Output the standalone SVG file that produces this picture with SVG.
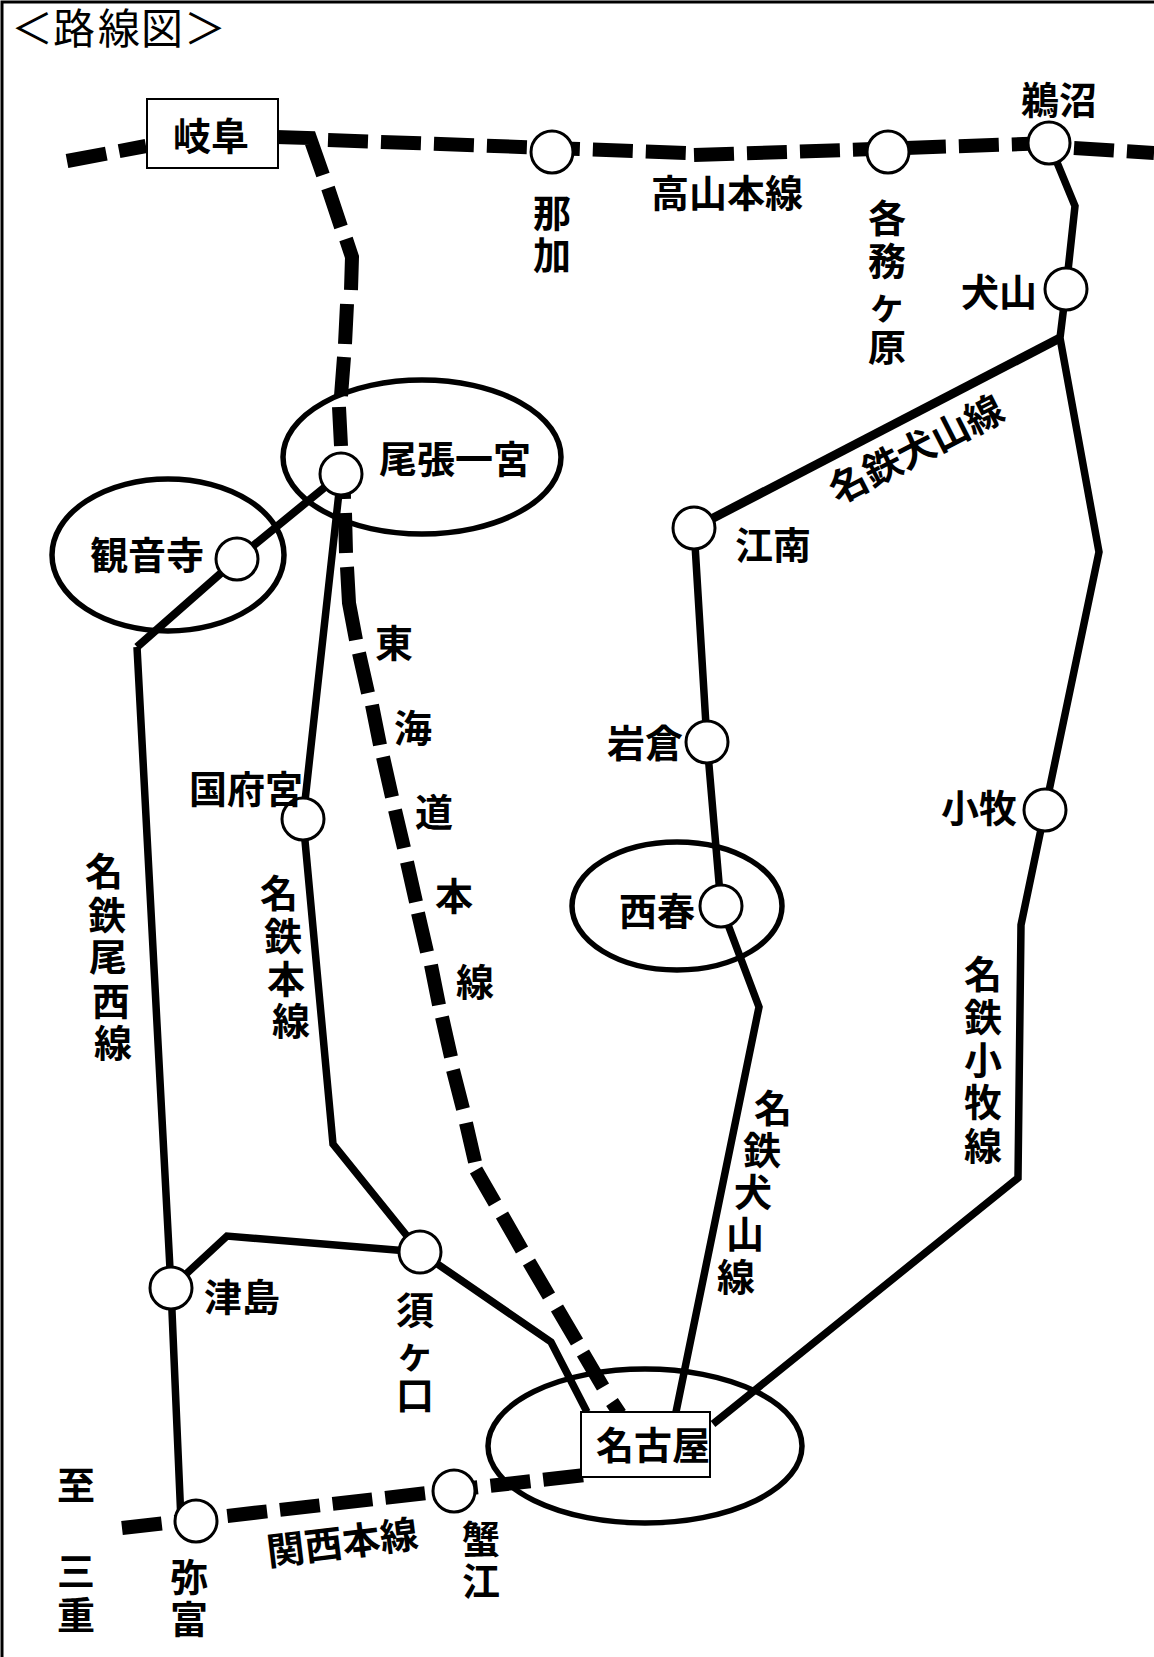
<svg xmlns="http://www.w3.org/2000/svg" width="1154" height="1657" viewBox="0 0 1154 1657">
<style>
text{font-family:"Noto Sans CJK JP","Noto Sans",sans-serif;font-size:38px;font-weight:700;fill:#000;text-anchor:middle;dominant-baseline:central}
.title{font-size:42px;font-weight:400}
.solid{fill:none;stroke:#000;stroke-width:7.5;stroke-linejoin:miter}
.dash{fill:none;stroke:#000;stroke-width:14;stroke-dasharray:40 13}
.thick{fill:none;stroke:#000;stroke-width:14}
.st{fill:#fff;stroke:#000;stroke-width:3}
.area{fill:none;stroke:#000;stroke-width:5.5}
.box{fill:#fff;stroke:#000;stroke-width:2}
</style>
<rect width="1154" height="1657" fill="#fff"/>
<path d="M2,1657V2H1154" fill="none" stroke="#000" stroke-width="3"/>
<text class="title" x="32 74 119 162 205" y="25">＜路線図＞</text>
<g id="areas">
<ellipse class="area" cx="422" cy="457" rx="139" ry="77"/>
<ellipse class="area" cx="168" cy="555" rx="116" ry="76"/>
<ellipse class="area" cx="677" cy="906" rx="105" ry="64"/>
<ellipse class="area" cx="645" cy="1446" rx="157" ry="77"/>
</g>
<g id="connectors">
<path class="solid" d="M1049,143L1075,206L1066,289L1060,338L1099,552L1045,810L1021,925L1018,1178L713,1424"/>
<path class="solid" style="stroke-width:9" d="M1060,338L694,528"/>
<path class="solid" d="M694,528L707,742L721,906L759,1007L676,1412"/>
<path class="solid" style="stroke-width:8" d="M341,474L237,559L137,647"/>
<path class="solid" d="M137,647L171,1288L181,1521"/>
<path class="solid" d="M341,474L303,819L333,1144L420,1252L551,1342L587,1412"/>
<path class="solid" d="M171,1288L227,1236L420,1252"/>
<path class="dash" d="M122,1528L585,1475"/>
<path class="dash" d="M67,161L146,146"/>
<path class="dash" d="M328,140L688,153"/>
<path class="dash" d="M694,155L1054,143"/>
<path class="dash" d="M1074,148L1154,153"/>
<path class="thick" d="M276,137L310,138L323,175M328,188L341,227M346,239L352,257L351,290M347,304L345,344M344,357L341,396M339,407L341,446M343,459L344,499M345,513L346,553M347,567L349,603L356,640M359,653L368,693M372,705L380,745M383,757L392,797M395,810L404,848M407,862L416,902M418,913L427,952M431,965L439,1005M442,1017L451,1057M453,1070L463,1109M466,1123L475,1162M476,1170L495,1203M502,1215L522,1250M529,1262L549,1296M557,1308L577,1342M583,1353L603,1387M612,1402L620,1414"/>
</g>
<g id="st-naka"><circle class="st" cx="552" cy="152" r="21"/><text x="552" y="210">那</text><text x="552" y="252">加</text></g>
<g id="st-kakamigahara"><circle class="st" cx="888" cy="152" r="21"/><text x="887" y="215">各</text><text x="887" y="258">務</text><text x="887" y="301">ヶ</text><text x="887" y="344">原</text></g>
<g id="st-unuma"><circle class="st" cx="1049" cy="143" r="21"/><text x="1059" y="97">鵜沼</text></g>
<g id="st-inuyama"><circle class="st" cx="1066" cy="289" r="21"/><text x="999" y="289">犬山</text></g>
<g id="st-konan"><circle class="st" cx="694" cy="528" r="21"/><text x="773" y="542">江南</text></g>
<g id="st-iwakura"><circle class="st" cx="707" cy="742" r="21"/><text x="645" y="740">岩倉</text></g>
<g id="st-nishiharu"><circle class="st" cx="721" cy="906" r="21"/><text x="657" y="908">西春</text></g>
<g id="st-komaki"><circle class="st" cx="1045" cy="810" r="21"/><text x="979" y="805">小牧</text></g>
<g id="st-owari-ichinomiya"><circle class="st" cx="341" cy="474" r="21"/><text x="455" y="456">尾張一宮</text></g>
<g id="st-kannonji"><circle class="st" cx="237" cy="559" r="21"/><text x="147" y="552">観音寺</text></g>
<g id="st-konomiya"><circle class="st" cx="303" cy="819" r="21"/><text x="246" y="786">国府宮</text></g>
<g id="st-sukaguchi"><circle class="st" cx="420" cy="1252" r="21"/><text x="415" y="1307">須</text><text x="415" y="1350">ヶ</text><text x="415" y="1392">口</text></g>
<g id="st-tsushima"><circle class="st" cx="171" cy="1288" r="21"/><text x="242" y="1294">津島</text></g>
<g id="st-yatomi"><circle class="st" cx="196" cy="1521" r="21"/><text x="189" y="1574">弥</text><text x="189" y="1616">富</text></g>
<g id="st-kanie"><circle class="st" cx="454" cy="1491" r="21"/><text x="481" y="1536">蟹</text><text x="481" y="1578">江</text></g>
<g id="st-gifu"><rect class="box" x="147" y="99" width="131" height="69"/><text x="211" y="133">岐阜</text></g>
<g id="st-nagoya"><rect class="box" x="581" y="1412" width="129" height="65"/><text x="653" y="1442">名古屋</text></g>
<g id="line-labels">
<text x="727" y="190">高山本線</text>
<text transform="rotate(-27 915 447)" x="915" y="447">名鉄犬山線</text>
<text transform="rotate(-7 342 1540)" x="342" y="1540">関西本線</text>
<text x="104" y="868">名</text><text x="107" y="912">鉄</text><text x="108" y="954">尾</text><text x="111" y="998">西</text><text x="113" y="1040">線</text>
<text x="279" y="890">名</text><text x="283" y="933">鉄</text><text x="286" y="976">本</text><text x="291" y="1018">線</text>
<text x="394" y="640">東</text><text x="413" y="725">海</text><text x="434" y="809">道</text><text x="454" y="893">本</text><text x="475" y="979">線</text>
<text x="773" y="1105">名</text><text x="762" y="1147">鉄</text><text x="753" y="1189">犬</text><text x="745" y="1231">山</text><text x="736" y="1274">線</text>
<text x="983" y="971">名</text><text x="983" y="1014">鉄</text><text x="983" y="1057">小</text><text x="983" y="1099">牧</text><text x="983" y="1143">線</text>
<text x="76" y="1482">至</text><text x="76" y="1568">三</text><text x="76" y="1612">重</text>
</g>
</svg>
